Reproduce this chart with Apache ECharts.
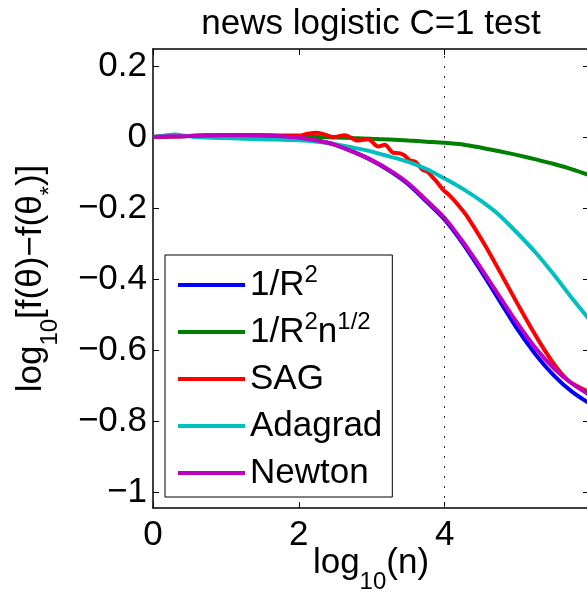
<!DOCTYPE html>
<html><head><meta charset="utf-8">
<script src="https://cdn.jsdelivr.net/npm/echarts@6/dist/echarts.min.js"></script>
<style>html,body{margin:0;padding:0;background:#fff}#c{width:587px;height:594px}</style>
</head><body><div id="c"></div>
<script>
// ---- data ----
const titleText = 'news logistic C=1 test';
const xTicks = [0, 2, 4];
const yTicks = [0.2, 0, -0.2, -0.4, -0.6, -0.8, -1];
const xRange = [0, 5.98];
const yRange = [-1.045, 0.248];
const refLineX = 4;

const seriesNames = ['1/R^2', '1/R^2n^1/2', 'SAG', 'Adagrad', 'Newton'];
const legendLabels = ['{n|1/R}{sup|2}', '{n|1/R}{sup|2}{n|n}{sup|1/2}', 'SAG', 'Adagrad', 'Newton'];
const colors = ['#0000ff', '#008000', '#ff0000', '#00bfbf', '#bf00bf'];

const xCommon = [0,0.25,0.5,0.75,1,1.25,1.5,1.75,2,2.25,2.5,2.75,3,3.25,3.5,3.75,4,4.25,4.5,4.75,5,5.25,5.5,5.75,6];
const blueY = [0,0.002,0.003,0.004,0.005,0.005,0.004,0.002,-0.002,-0.01,-0.022,-0.042,-0.066,-0.096,-0.133,-0.182,-0.233,-0.3,-0.378,-0.46,-0.542,-0.613,-0.672,-0.718,-0.752];
const greenY = [0,0.002,0.003,0.004,0.005,0.005,0.004,0.003,0.001,0,-0.001,-0.003,-0.005,-0.007,-0.01,-0.013,-0.016,-0.021,-0.03,-0.04,-0.051,-0.063,-0.076,-0.091,-0.109];
const newtonY = [0,0.002,0.003,0.004,0.005,0.005,0.004,0.002,-0.002,-0.01,-0.022,-0.042,-0.065,-0.094,-0.13,-0.178,-0.228,-0.295,-0.37,-0.448,-0.525,-0.595,-0.652,-0.695,-0.728];

const sagX = [0,0.5,1,1.5,2.0,2.12,2.25,2.37,2.47,2.63,2.81,2.95,3.09,3.18,3.29,3.39,3.45,3.52,3.6,3.7,3.76,3.83,3.9,3.98,4.07,4.2,4.31,4.54,4.77,5.0,5.23,5.46,5.69,6.0];
const sagY = [0,0.003,0.005,0.005,0.004,0.009,0.012,0.006,0.0,0.005,-0.01,-0.006,-0.027,-0.022,-0.044,-0.046,-0.052,-0.065,-0.07,-0.093,-0.097,-0.112,-0.128,-0.149,-0.165,-0.195,-0.224,-0.3,-0.384,-0.47,-0.553,-0.628,-0.685,-0.72];

const adaX = [0,0.15,0.3,0.45,0.6,1,1.5,2,2.25,2.5,2.75,3,3.25,3.5,3.75,4,4.25,4.5,4.75,5,5.25,5.5,5.75,6];
const adaY = [0,0.004,0.007,0.003,0,-0.003,-0.006,-0.009,-0.013,-0.02,-0.03,-0.041,-0.055,-0.07,-0.09,-0.117,-0.146,-0.18,-0.22,-0.271,-0.326,-0.388,-0.455,-0.518];

// ---- build ----
const zip = (xs, ys) => xs.map((x, i) => [x, ys[i]]);
const seriesData = [zip(xCommon, blueY), zip(xCommon, greenY), zip(sagX, sagY), zip(adaX, adaY), zip(xCommon, newtonY)];

const FONT = '"Liberation Sans", Arial, Helvetica, sans-serif';
const fmtY = v => v === 0 ? '0' : (v < 0 ? '\u2212' : '') + String(Math.abs(v));

const chart = echarts.init(document.getElementById('c'), null, {renderer: 'canvas'});
const axisLine = {show: true, onZero: false, lineStyle: {color: '#000', width: 1.5}};
const tickStyle = {show: true, inside: true, length: 6, lineStyle: {color: '#000', width: 1}};

const option = {
  animation: false,
  backgroundColor: '#fff',
  title: {
    text: titleText, left: 371, top: 7, textAlign: 'center', padding: 0,
    textStyle: {fontFamily: FONT, fontSize: 35, fontWeight: 'normal', color: '#000', lineHeight: 35}
  },
  grid: {left: 153, top: 49, width: 436, height: 459, containLabel: false, outerBoundsMode: 'none'},
  legend: {
    orient: 'vertical', left: 165, top: 255,
    padding: [8, 10, 2, 13], itemGap: 3, itemWidth: 67, itemHeight: 4,
    icon: 'rect', borderColor: '#000', borderWidth: 1, backgroundColor: '#fff',
    formatter: name => legendLabels[seriesNames.indexOf(name)],
    textStyle: {
      fontFamily: FONT, fontSize: 35, color: '#000', lineHeight: 44,
      rich: {
        n: {fontFamily: FONT, fontSize: 35, color: '#000', lineHeight: 44},
        sup: {fontFamily: FONT, fontSize: 24, color: '#000', lineHeight: 24, verticalAlign: 'top'}
      }
    },
    data: seriesNames
  },
  xAxis: [{
    type: 'value', min: xRange[0], max: xRange[1], position: 'bottom',
    axisLine, axisTick: Object.assign({customValues: xTicks}, tickStyle),
    splitLine: {show: false},
    axisLabel: {customValues: xTicks, fontFamily: FONT, fontSize: 35, color: '#000', margin: 10, lineHeight: 35},
    name: '{n|log}{sub|10}{n|(n)}', nameLocation: 'middle', nameGap: 24, nameMoveOverlap: false,
    nameTextStyle: {
      fontFamily: FONT, fontSize: 35, color: '#000', lineHeight: 62,
      rich: {
        n: {fontFamily: FONT, fontSize: 35, color: '#000', lineHeight: 62},
        sub: {fontFamily: FONT, fontSize: 24, color: '#000', lineHeight: 24, verticalAlign: 'bottom'}
      }
    }
  }, {
    type: 'value', min: xRange[0], max: xRange[1], position: 'top',
    axisLine, axisTick: Object.assign({customValues: xTicks}, tickStyle),
    axisLabel: {show: false}, splitLine: {show: false}
  }],
  yAxis: [{
    type: 'value', min: yRange[0], max: yRange[1], position: 'left',
    axisLine, axisTick: Object.assign({customValues: yTicks}, tickStyle),
    splitLine: {show: false},
    axisLabel: {customValues: yTicks, formatter: fmtY, fontFamily: FONT, fontSize: 35, color: '#000', margin: 6},
    name: '{n|log}{sub|10}{n|[f(\u03b8)\u2212f(\u03b8}{sub|*}{n|)]}', nameLocation: 'middle', nameGap: 91, nameMoveOverlap: false,
    nameTextStyle: {
      fontFamily: FONT, fontSize: 35, color: '#000', lineHeight: 62,
      rich: {
        n: {fontFamily: FONT, fontSize: 35, color: '#000', lineHeight: 62},
        sub: {fontFamily: FONT, fontSize: 24, color: '#000', lineHeight: 24, verticalAlign: 'bottom'}
      }
    }
  }, {
    type: 'value', min: yRange[0], max: yRange[1], position: 'right',
    axisLine, axisTick: Object.assign({customValues: yTicks}, tickStyle),
    axisLabel: {show: false}, splitLine: {show: false}
  }],
  series: seriesNames.map((name, i) => {
    const s = {
      name, type: 'line', data: seriesData[i], xAxisIndex: 0, yAxisIndex: 0,
      showSymbol: false, symbol: 'none', smooth: 0.3, clip: true,
      lineStyle: {color: colors[i], width: 4}, itemStyle: {color: colors[i]}
    };
    if (i === 0) {
      s.markLine = {
        silent: true, symbol: ['none', 'none'], label: {show: false},
        lineStyle: {color: '#333', width: 1, type: [2, 8]},
        data: [{xAxis: refLineX}]
      };
    }
    return s;
  })
};
chart.setOption(option);
</script>
</body></html>
